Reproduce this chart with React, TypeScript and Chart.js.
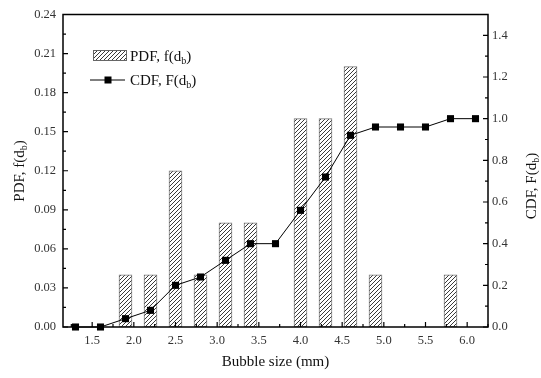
import React, { useEffect, useRef } from "react";
import { Chart, registerables } from "chart.js";

Chart.register(...registerables);

const SIZES = [1.3, 1.6, 1.9, 2.2, 2.5, 2.8, 3.1, 3.4, 3.7, 4.0, 4.3, 4.6, 4.9, 5.2, 5.5, 5.8, 6.1];
const PDF = [0, 0, 0.04, 0.04, 0.12, 0.04, 0.08, 0.08, 0, 0.16, 0.16, 0.2, 0.04, 0, 0, 0.04, 0];
const CDF = [0, 0, 0.04, 0.08, 0.2, 0.24, 0.32, 0.4, 0.4, 0.56, 0.72, 0.92, 0.96, 0.96, 0.96, 1.0, 1.0];

const X_TICKS = [1.5, 2.0, 2.5, 3.0, 3.5, 4.0, 4.5, 5.0, 5.5, 6.0];
const X_MINOR = [1.25, 1.75, 2.25, 2.75, 3.25, 3.75, 4.25, 4.75, 5.25, 5.75, 6.25];
const YL_TICKS = [0, 0.03, 0.06, 0.09, 0.12, 0.15, 0.18, 0.21, 0.24];
const YL_MINOR = [0.015, 0.045, 0.075, 0.105, 0.135, 0.165, 0.195, 0.225];
const YR_TICKS = [0, 0.2, 0.4, 0.6, 0.8, 1.0, 1.2, 1.4];
const YR_MINOR = [0.1, 0.3, 0.5, 0.7, 0.9, 1.1, 1.3];

const X_TITLE = "Bubble size (mm)";
const PDF_LABEL = [{ t: "PDF, f(d" }, { t: "b", sub: true }, { t: ")" }];
const CDF_LABEL = [{ t: "CDF, F(d" }, { t: "b", sub: true }, { t: ")" }];

const FONT = "'Liberation Serif', 'Times New Roman', serif";

function makeHatch(): CanvasPattern | string {
  const s = 4;
  const c = document.createElement("canvas");
  c.width = s;
  c.height = s;
  const p = c.getContext("2d");
  if (!p) return "#ccc";
  p.fillStyle = "#ffffff";
  p.fillRect(0, 0, s, s);
  p.strokeStyle = "#3a3a3a";
  p.lineWidth = 1;
  p.beginPath();
  p.moveTo(0, s);
  p.lineTo(s, 0);
  p.moveTo(-1, 1);
  p.lineTo(1, -1);
  p.moveTo(s - 1, s + 1);
  p.lineTo(s + 1, s - 1);
  p.stroke();
  const pat = p.createPattern(c, "repeat");
  return pat || "#ccc";
}

type Part = { t: string; sub?: boolean };

function partsWidth(ctx: CanvasRenderingContext2D, parts: Part[], size: number, subSize: number) {
  let w = 0;
  for (const pt of parts) {
    ctx.font = `${pt.sub ? subSize : size}px ${FONT}`;
    w += ctx.measureText(pt.t).width;
  }
  return w;
}

function drawParts(ctx: CanvasRenderingContext2D, parts: Part[], x: number, y: number, size: number, subSize: number) {
  let cx = x;
  ctx.textBaseline = "alphabetic";
  ctx.textAlign = "left";
  for (const pt of parts) {
    ctx.font = `${pt.sub ? subSize : size}px ${FONT}`;
    ctx.fillText(pt.t, cx, pt.sub ? y + 3 : y);
    cx += ctx.measureText(pt.t).width;
  }
}

export default function App() {
  const ref = useRef<HTMLCanvasElement | null>(null);

  useEffect(() => {
    if (!ref.current) return;
    const hatch = makeHatch();

    const framePlugin = {
      id: "framePlugin",
      afterDatasetsDraw(chart: any) {
        const ctx: CanvasRenderingContext2D = chart.ctx;
        const { left, right, top, bottom } = chart.chartArea;
        const xs = chart.scales.x;
        const yl = chart.scales.yL;
        const yr = chart.scales.yR;
        ctx.save();
        ctx.strokeStyle = "#000";
        ctx.lineWidth = 1.5;
        ctx.strokeRect(left, top, right - left, bottom - top);
        ctx.lineWidth = 1.2;
        ctx.beginPath();
        const major = 5;
        const minor = 3;
        for (const v of X_TICKS) {
          const px = xs.getPixelForValue(v);
          ctx.moveTo(px, bottom);
          ctx.lineTo(px, bottom - major);
        }
        for (const v of X_MINOR) {
          const px = xs.getPixelForValue(v);
          ctx.moveTo(px, bottom);
          ctx.lineTo(px, bottom - minor);
        }
        for (const v of YL_TICKS) {
          const py = yl.getPixelForValue(v);
          ctx.moveTo(left, py);
          ctx.lineTo(left + major, py);
        }
        for (const v of YL_MINOR) {
          const py = yl.getPixelForValue(v);
          ctx.moveTo(left, py);
          ctx.lineTo(left + minor, py);
        }
        for (const v of YR_TICKS) {
          const py = yr.getPixelForValue(v);
          ctx.moveTo(right, py);
          ctx.lineTo(right - major, py);
        }
        for (const v of YR_MINOR) {
          const py = yr.getPixelForValue(v);
          ctx.moveTo(right, py);
          ctx.lineTo(right - minor, py);
        }
        ctx.stroke();

        // axis titles
        ctx.fillStyle = "#111";
        ctx.font = `15px ${FONT}`;
        ctx.textAlign = "center";
        ctx.textBaseline = "alphabetic";
        ctx.fillText(X_TITLE, (left + right) / 2, 366);

        const size = 15;
        const subSize = 10;
        let w = partsWidth(ctx, PDF_LABEL, size, subSize);
        ctx.save();
        ctx.translate(24, 171);
        ctx.rotate(-Math.PI / 2);
        drawParts(ctx, PDF_LABEL, -w / 2, 0, size, subSize);
        ctx.restore();

        w = partsWidth(ctx, CDF_LABEL, size, subSize);
        ctx.save();
        ctx.translate(536, 186);
        ctx.rotate(-Math.PI / 2);
        drawParts(ctx, CDF_LABEL, -w / 2, 0, size, subSize);
        ctx.restore();

        // legend
        ctx.fillStyle = hatch as any;
        ctx.fillRect(93, 50, 34, 11);
        ctx.strokeStyle = "#666";
        ctx.lineWidth = 1;
        ctx.strokeRect(93.5, 50.5, 33, 10);
        ctx.fillStyle = "#111";
        drawParts(ctx, PDF_LABEL, 130, 61, size, subSize);

        ctx.strokeStyle = "#000";
        ctx.lineWidth = 1;
        ctx.beginPath();
        ctx.moveTo(90, 80);
        ctx.lineTo(125, 80);
        ctx.stroke();
        ctx.fillStyle = "#000";
        ctx.fillRect(104.5, 76.5, 7, 7);
        ctx.fillStyle = "#111";
        drawParts(ctx, CDF_LABEL, 130, 85, size, subSize);
        ctx.restore();
      },
    };

    const tickFont = { family: FONT, size: 12.5 };

    const chart = new Chart(ref.current, {
      type: "bar",
      data: {
        datasets: [
          {
            type: "line",
            label: "CDF",
            data: SIZES.map((x, i) => ({ x, y: CDF[i] })),
            yAxisID: "yR",
            xAxisID: "x",
            borderColor: "#000",
            borderWidth: 1,
            backgroundColor: "#000",
            pointStyle: "rect",
            pointRadius: 5,
            pointBorderWidth: 0,
            pointBackgroundColor: "#000",
            tension: 0,
            clip: false as any,
            order: 0,
          } as any,
          {
            type: "bar",
            label: "PDF",
            data: SIZES.map((x, i) => ({ x, y: PDF[i] > 0 ? PDF[i] : null })),
            yAxisID: "yL",
            xAxisID: "x",
            backgroundColor: hatch as any,
            borderColor: "#777",
            borderWidth: 1,
            borderSkipped: false,
            barThickness: 13,
            order: 1,
          } as any,
        ],
      },
      options: {
        responsive: false,
        animation: false,
        layout: { padding: { top: 13, left: 0, right: 0, bottom: 0 } },
        plugins: {
          legend: { display: false },
          tooltip: { enabled: false },
        },
        scales: {
          x: {
            type: "linear",
            position: "bottom",
            offset: false,
            min: 1.15,
            max: 6.25,
            grid: { display: false, drawTicks: false, offset: false },
            border: { display: false },
            ticks: {
              font: tickFont,
              color: "#333",
              padding: 6,
              maxRotation: 0,
              autoSkip: false,
              callback: (v: any) => Number(v).toFixed(1),
            },
            afterBuildTicks: (s: any) => {
              s.ticks = X_TICKS.map((value) => ({ value }));
            },
            afterFit: (s: any) => {
              s.height = 51;
            },
          },
          yL: {
            type: "linear",
            position: "left",
            min: 0,
            max: 0.24,
            grid: { display: false, drawTicks: false },
            border: { display: false },
            ticks: {
              font: tickFont,
              color: "#333",
              padding: 7,
              autoSkip: false,
              callback: (v: any) => Number(v).toFixed(2),
            },
            afterBuildTicks: (s: any) => {
              s.ticks = YL_TICKS.map((value) => ({ value }));
            },
            afterFit: (s: any) => {
              s.width = 63;
            },
          },
          yR: {
            type: "linear",
            position: "right",
            min: 0,
            max: 1.5,
            grid: { display: false, drawTicks: false },
            border: { display: false },
            ticks: {
              font: tickFont,
              color: "#333",
              padding: 4,
              autoSkip: false,
              callback: (v: any) => Number(v).toFixed(1),
            },
            afterBuildTicks: (s: any) => {
              s.ticks = YR_TICKS.map((value) => ({ value }));
            },
            afterFit: (s: any) => {
              s.width = 53;
            },
          },
        },
      } as any,
      plugins: [framePlugin],
    });

    return () => chart.destroy();
  }, []);

  return (
    <div style={{ position: "fixed", left: 0, top: 0, width: 541, height: 378, background: "#fff" }}>
      <canvas ref={ref} width={541} height={378} style={{ width: 541, height: 378, display: "block" }} />
    </div>
  );
}
